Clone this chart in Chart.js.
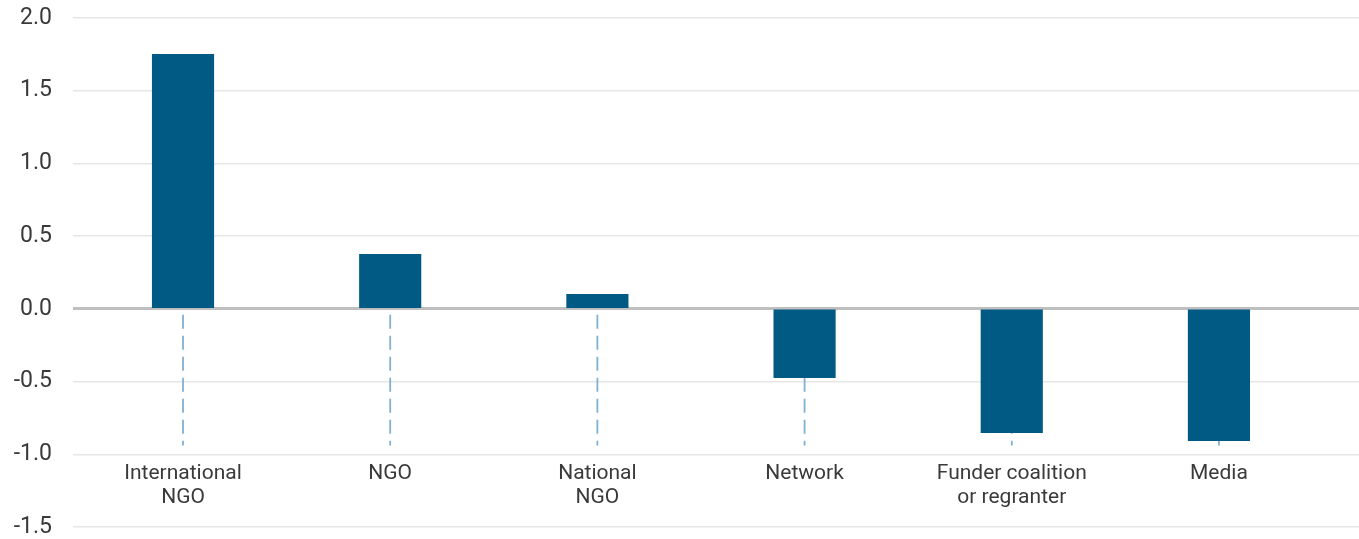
<!DOCTYPE html>
<html>
<head>
<meta charset="utf-8">
<script src="https://cdn.jsdelivr.net/npm/chart.js@4"></script>
<style>
  html, body { margin: 0; padding: 0; background: #fff; }
  #wrap { position: relative; width: 1359px; height: 539px; }
</style>
</head>
<body>
<div id="wrap"><canvas id="chart"></canvas></div>
<script>
const categories = [
  ["International", "NGO"],
  ["NGO"],
  ["National", "NGO"],
  ["Network"],
  ["Funder coalition", "or regranter"],
  ["Media"]
];
const values = [1.753, 0.378, 0.103, -0.475, -0.853, -0.908];
const dropFrom = -0.04;
const dropTo = -0.94;
const yTicks = [-1.5, -1.0, -0.5, 0.0, 0.5, 1.0, 1.5, 2.0];

// dashed drop lines under each category, broken up with nulls
const dropLines = [];
categories.forEach((c, i) => {
  dropLines.push({ x: i, y: dropFrom }, { x: i, y: dropTo }, { x: i, y: null });
});

const ctx = document.getElementById("chart").getContext("2d");
new Chart(ctx, {
  data: {
    datasets: [
      {
        type: "bar",
        data: values.map((v, i) => ({ x: i, y: v })),
        backgroundColor: "#005a84",
        barPercentage: 1,
        categoryPercentage: 0.3,
        order: 1
      },
      {
        type: "line",
        data: dropLines,
        borderColor: "#80b1d2",
        borderWidth: 1.8,
        borderDash: [14, 7],
        pointRadius: 0,
        spanGaps: false,
        order: 2
      }
    ]
  },
  options: {
    responsive: true,
    maintainAspectRatio: false,
    animation: false,
    layout: { padding: 0 },
    plugins: { legend: { display: false }, tooltip: { enabled: false } },
    scales: {
      x: {
        type: "linear",
        position: { y: -1 },
        offset: false,
        min: -0.531,
        max: 5.676,
        bounds: "data",
        grid: { display: false, drawTicks: false },
        border: { display: false },
        afterBuildTicks: (scale) => {
          scale.ticks = categories.map((c, i) => ({ value: i }));
        },
        ticks: {
          autoSkip: false,
          maxRotation: 0,
          padding: 7,
          color: "#3a3a3a",
          font: { family: "Roboto", size: 21, lineHeight: 1.17 },
          callback: (v) => categories[v]
        }
      },
      y: {
        type: "linear",
        min: -1.5,
        max: 2,
        afterBuildTicks: (scale) => {
          scale.ticks = yTicks.map((v) => ({ value: v }));
        },
        afterFit: (scale) => {
          scale.width = 73;
          scale.paddingTop = 18;
          scale.paddingBottom = 12;
        },
        grid: {
          drawTicks: false,
          color: (c) => (c.tick && c.tick.value === 0 ? "rgba(0,0,0,0)" : "#e6e6e6"),
          lineWidth: 1.5
        },
        border: { display: false },
        ticks: {
          padding: 21,
          color: "#3a3a3a",
          font: { family: "Roboto", size: 23 },
          callback: (v) => v.toFixed(1)
        }
      },
      y0: {
        type: "linear",
        position: "right",
        min: -1.5,
        max: 2,
        z: 1,
        afterBuildTicks: (scale) => {
          scale.ticks = [{ value: 0 }];
        },
        grid: { drawTicks: false, color: "#bfbfbf", lineWidth: 3 },
        border: { display: false },
        ticks: { display: false }
      }
    }
  }
});
</script>
</body>
</html>
